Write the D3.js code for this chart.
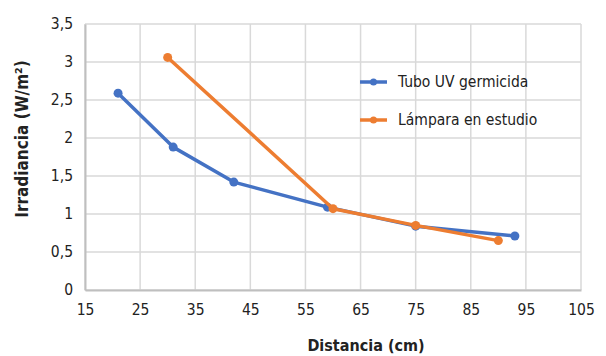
<!DOCTYPE html>
<html>
<head>
<meta charset="utf-8">
<script src="https://cdn.jsdelivr.net/npm/d3@7"></script>
<style>
  body { margin: 0; background: #fff; }
  text { font-family: "Liberation Sans Narrow", "DejaVu Sans Condensed", "Open Sans", sans-serif; fill: #222; }
</style>
</head>
<body>
<script>
const width = 606,
  height = 356;

// readings from the chart
const tuboDist = [21, 31, 42, 59, 75, 93];
const tuboIrr = [2.59, 1.88, 1.42, 1.09, 0.84, 0.71];
const lampDist = [30, 60, 75, 90];
const lampIrr = [3.06, 1.07, 0.85, 0.65];
const xTicks = [15, 25, 35, 45, 55, 65, 75, 85, 95, 105];
const yTicks = [0, 0.5, 1, 1.5, 2, 2.5, 3, 3.5];
const seriesNames = ["Tubo UV germicida", "Lámpara en estudio"];
const colors = ["#4472C4", "#ED7D31"];

const margin = { top: 24, right: 25, bottom: 66, left: 85 };

const x = d3.scaleLinear().domain([15, 105]).range([margin.left, width - margin.right]);
const y = d3.scaleLinear().domain([0, 3.5]).range([height - margin.bottom, margin.top]);

const svg = d3
  .select("body")
  .append("svg")
  .attr("width", width)
  .attr("height", height);

// gridlines
svg.append("g")
  .selectAll("line.v")
  .data(xTicks)
  .join("line")
  .attr("x1", (d) => x(d))
  .attr("x2", (d) => x(d))
  .attr("y1", y(0))
  .attr("y2", y(3.5))
  .attr("stroke", "#d9d9d9")
  .attr("stroke-width", 1.5);

svg.append("g")
  .selectAll("line.h")
  .data(yTicks)
  .join("line")
  .attr("x1", x(15))
  .attr("x2", x(105))
  .attr("y1", (d) => y(d))
  .attr("y2", (d) => y(d))
  .attr("stroke", "#d9d9d9")
  .attr("stroke-width", 1.5);

// axes
const fmt = (d) => String(d).replace(".", ",");
const xAxis = svg.append("g")
  .attr("transform", `translate(0,${y(0)})`)
  .call(d3.axisBottom(x).tickValues(xTicks).tickSize(0).tickPadding(14).tickFormat(fmt));
const yAxis = svg.append("g")
  .attr("transform", `translate(${x(15)},0)`)
  .call(d3.axisLeft(y).tickValues(yTicks).tickSize(0).tickPadding(12).tickFormat(fmt));
[xAxis, yAxis].forEach((g) => {
  g.select(".domain").attr("stroke", "#bfbfbf").attr("stroke-width", 2);
  g.selectAll("text").attr("font-size", 15.5).attr("fill", "#222");
});

// series
const series = [
  { name: seriesNames[0], color: colors[0], pts: tuboDist.map((d, i) => [d, tuboIrr[i]]) },
  { name: seriesNames[1], color: colors[1], pts: lampDist.map((d, i) => [d, lampIrr[i]]) }
];
const line = d3.line().x((d) => x(d[0])).y((d) => y(d[1]));

series.forEach((s) => {
  svg.append("path")
    .datum(s.pts)
    .attr("fill", "none")
    .attr("stroke", s.color)
    .attr("stroke-width", 3.5)
    .attr("stroke-linejoin", "round")
    .attr("d", line);
  svg.append("g")
    .selectAll("circle")
    .data(s.pts)
    .join("circle")
    .attr("cx", (d) => x(d[0]))
    .attr("cy", (d) => y(d[1]))
    .attr("r", 4.5)
    .attr("fill", s.color);
});

// legend
const legend = svg.append("g").attr("transform", "translate(360,82)");
series.forEach((s, i) => {
  const g = legend.append("g").attr("transform", `translate(0,${i * 38})`);
  g.append("line").attr("x1", 0).attr("x2", 27).attr("stroke", s.color).attr("stroke-width", 3.5);
  g.append("circle").attr("cx", 13.5).attr("r", 3.5).attr("fill", s.color);
  g.append("text").attr("x", 38).attr("dy", "0.35em").attr("font-size", 15.5).text(s.name);
});

// axis titles
svg.append("text")
  .attr("x", 366)
  .attr("y", 351)
  .attr("text-anchor", "middle")
  .attr("font-size", 16)
  .attr("font-weight", "bold")
  .text("Distancia (cm)");

svg.append("text")
  .attr("transform", "translate(28,139) rotate(-90)")
  .attr("text-anchor", "middle")
  .attr("font-size", 17)
  .attr("font-weight", "bold")
  .text("Irradiancia (W/m²)");
</script>
</body>
</html>
